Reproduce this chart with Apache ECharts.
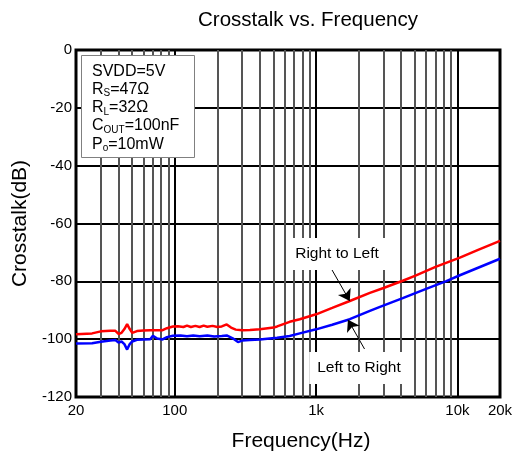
<!DOCTYPE html>
<html><head><meta charset="utf-8">
<script src="https://cdn.jsdelivr.net/npm/echarts@6/dist/echarts.min.js"></script>
<style>html,body{margin:0;padding:0;background:#fff}#c{width:525px;height:458px}</style>
</head><body><div id="c"></div>
<script>
// ---- data ----
const rightToLeftFreq = [20,26,30,35,38,40,42,44,46,48,50,54,60,67,75,82,88,97,105,115,122,130,140,150,160,170,185,200,215,233,250,270,300,340,400,500,530,650,766,1000,1300,1730,2400,3000,4100,5000,7000,10400,14000,20000];
const rightToLeftDb   = [-98.3,-98.0,-97.3,-97.1,-97.1,-98.2,-97.8,-96.5,-94.8,-96.5,-97.8,-97.2,-97.0,-96.9,-96.9,-96.9,-96.2,-95.6,-95.5,-95.8,-95.3,-95.8,-95.4,-95.8,-95.3,-95.7,-95.4,-95.8,-95.6,-94.9,-96.0,-96.7,-96.9,-96.8,-96.6,-96.0,-95.6,-94.0,-93.1,-91.4,-89.2,-86.8,-84.0,-82.3,-79.8,-78.1,-75.0,-71.8,-69.1,-66.0];
const leftToRightFreq = [20,26,30,35,38,40,42,44,46,48,50,54,60,67,70,75,82,88,97,110,122,135,150,170,190,215,233,257,280,300,340,400,530,650,766,1000,1300,1730,2400,2800,4100,6000,8340,10400,14000,20000];
const leftToRightDb   = [-101.5,-101.4,-100.9,-100.5,-100.3,-101.2,-100.8,-101.7,-103.6,-101.7,-100.8,-100.2,-100.1,-100.0,-98.8,-99.8,-100.1,-99.3,-98.8,-98.7,-99.0,-98.7,-99.0,-98.7,-99.1,-98.9,-98.7,-99.7,-101.0,-100.5,-100.3,-100.1,-99.5,-98.9,-98.0,-96.6,-95.0,-93.1,-90.2,-88.9,-85.8,-82.6,-79.9,-77.9,-75.3,-72.2];
const xTickValues = [20,100,1000,10000,20000];
const xTickLabels = ['20','100','1k','10k','20k'];
const minorGridFreq = [30,40,50,60,70,80,90,200,300,400,500,600,700,800,900,2000,3000,4000,5000,6000,7000,8000,9000];
const majorGridFreq = [100,1000,10000];
const conditionLines = [
  ['SVDD=5V'],
  ['R','S','=47Ω'],
  ['R','L','=32Ω'],
  ['C','OUT','=100nF'],
  ['P','o','=10mW']
];
// arrow annotations: [start, tip] in data coordinates
const arrowRightToLeft = [[1290,-75.9],[1730,-86.8]];
const arrowLeftToRight = [[2200,-103.4],[1680,-93.3]];

const zip = (a,b) => a.map((v,i)=>[v,b[i]]);
const labelOf = v => { const r = Math.round(v); const i = xTickValues.indexOf(r); return i>=0 ? xTickLabels[i] : ''; };
const FONT = 'Liberation Sans, Arial, sans-serif';

const condText = conditionLines.map(l => l.length===1 ? '{m|'+l[0]+'}' : '{m|'+l[0]+'}{s|'+l[1]+'}{m|'+l[2]+'}').join('\n');

const chart = echarts.init(document.getElementById('c'));
chart.setOption({
  animation:false,
  backgroundColor:'#fff',
  title:{text:'Crosstalk vs. Frequency',left:303,top:5,textAlign:'center',
    textStyle:{fontFamily:FONT,fontSize:20.5,fontWeight:'normal',color:'#000'}},
  grid:{left:76,right:25,top:50,bottom:61,show:true,borderColor:'#000',borderWidth:3,backgroundColor:'#fff'},
  xAxis:{type:'log',logBase:10,min:20,max:20000,
    name:'Frequency(Hz)',nameLocation:'middle',nameGap:34,
    nameTextStyle:{fontFamily:FONT,fontSize:21,color:'#000',padding:[0,0,0,26]},
    axisLine:{show:false},axisTick:{show:false},splitLine:{show:false},minorSplitLine:{show:false},
    axisLabel:{show:true,showMinLabel:true,showMaxLabel:true,margin:6,color:'#000',fontFamily:FONT,fontSize:15,formatter:labelOf}},
  yAxis:{type:'value',min:-120,max:0,interval:20,
    name:'Crosstalk(dB)',nameLocation:'middle',nameGap:37,nameRotate:90,
    nameTextStyle:{fontFamily:FONT,fontSize:21,color:'#000'},
    axisLine:{show:false},axisTick:{show:false},
    splitLine:{show:true,lineStyle:{color:'#000',width:2}},
    axisLabel:{margin:4,color:'#000',fontFamily:FONT,fontSize:15,formatter:v=>String(v)}},
  series:[
    {type:'line',name:'grid',data:[],silent:true,z:1,
      markLine:{silent:true,z:1,symbol:['none','none'],label:{show:false},animation:false,
        data:[].concat(
          minorGridFreq.map(f=>({xAxis:f,lineStyle:{color:'#555',width:2,type:'solid'}})),
          majorGridFreq.map(f=>({xAxis:f,lineStyle:{color:'#000',width:2,type:'solid'}}))
        )}},
    {type:'line',name:'Right to Left',data:zip(rightToLeftFreq,rightToLeftDb),showSymbol:false,symbol:'none',z:3,
      lineStyle:{color:'#ff0000',width:2.5},itemStyle:{color:'#ff0000'}},
    {type:'line',name:'Left to Right',data:zip(leftToRightFreq,leftToRightDb),showSymbol:false,symbol:'none',z:3,
      lineStyle:{color:'#0000ff',width:2.5},itemStyle:{color:'#0000ff'}},
    {type:'line',name:'arrows',data:[],silent:true,z:6,
      markLine:{silent:true,z:6,label:{show:false},animation:false,symbol:['none','arrow'],symbolSize:11,
        lineStyle:{color:'#000',width:1,type:'solid'},
        data:[
          [{coord:arrowRightToLeft[0]},{coord:arrowRightToLeft[1]}],
          [{coord:arrowLeftToRight[0]},{coord:arrowLeftToRight[1]}]
        ]}}
  ],
  graphic:[
    {type:'rect',z:50,shape:{x:81.5,y:55.5,width:113,height:102},style:{fill:'#fff',stroke:'#808080',lineWidth:1}},
    {type:'text',z:51,x:92,y:62,style:{text:condText,fontFamily:FONT,
      rich:{m:{fontSize:16,lineHeight:18.3,fontFamily:FONT,fill:'#000'},
            s:{fontSize:10,lineHeight:18.3,verticalAlign:'bottom',fontFamily:FONT,fill:'#000'}}}},
    {type:'text',z:51,x:337,y:254,style:{text:'Right to Left',fontFamily:FONT,fontSize:15.5,fill:'#000',
      align:'center',verticalAlign:'middle',backgroundColor:'#fff',padding:[8,8]}},
    {type:'text',z:51,x:359,y:368,style:{text:'Left to Right',fontFamily:FONT,fontSize:15.5,fill:'#000',
      align:'center',verticalAlign:'middle',backgroundColor:'#fff',padding:[8,8]}}
  ]
});
</script></body></html>
